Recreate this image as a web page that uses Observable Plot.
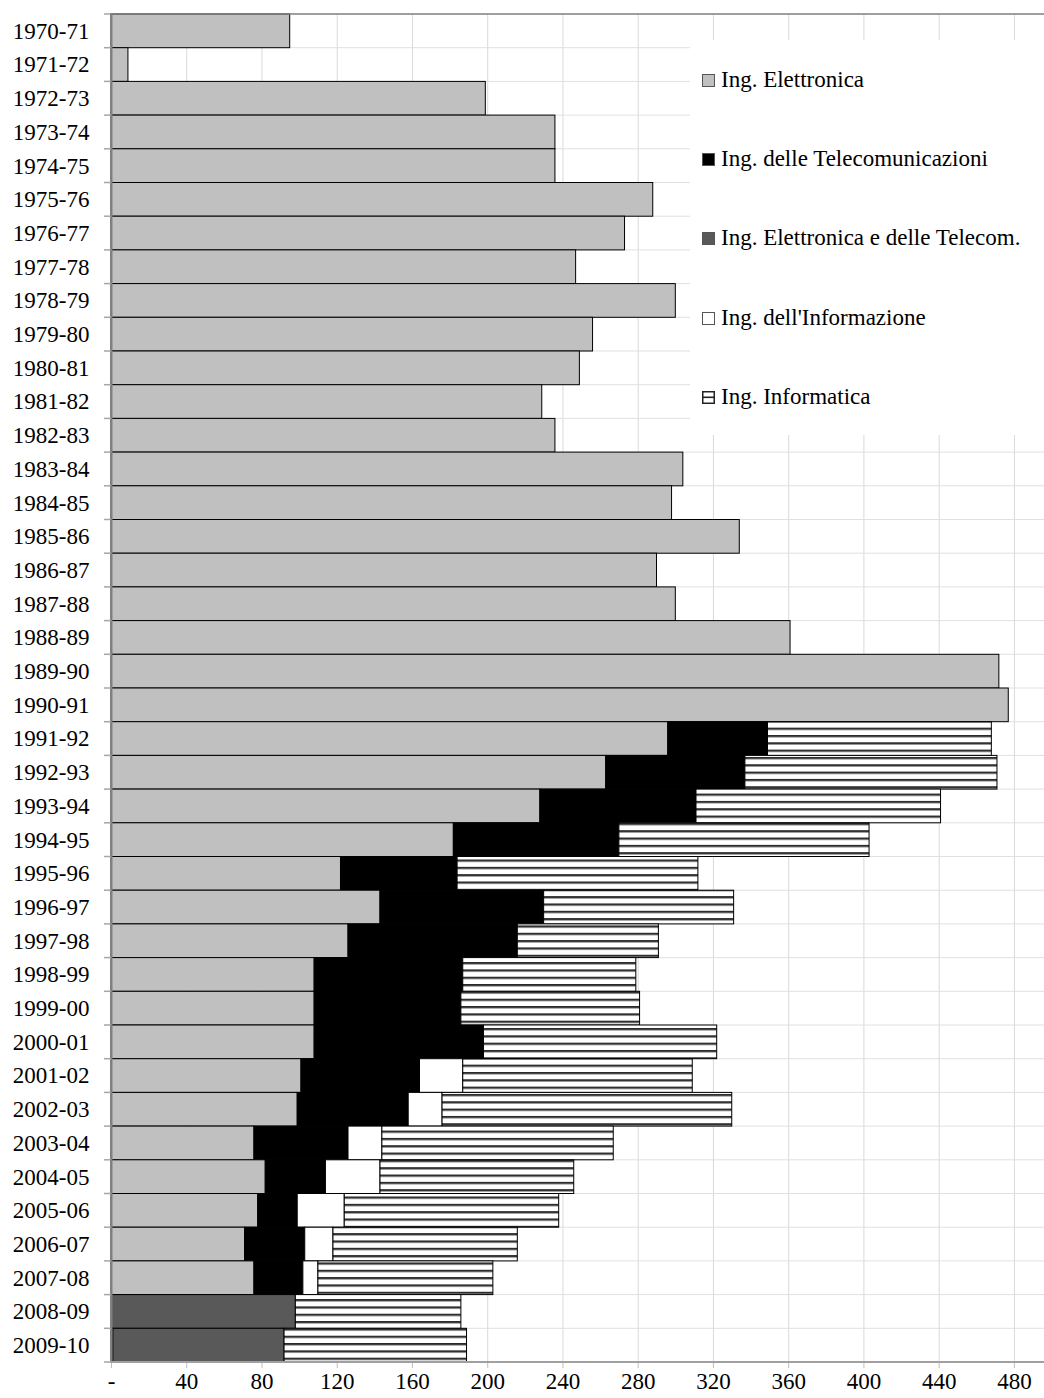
<!DOCTYPE html>
<html>
<head>
<meta charset="utf-8">
<script src="https://cdn.jsdelivr.net/npm/d3@7"></script>
<script src="https://cdn.jsdelivr.net/npm/@observablehq/plot@0.6"></script>
<style>
  html, body { margin: 0; padding: 0; background: #fff; }
  #wrap { position: relative; width: 1044px; height: 1398px; font-family: "Liberation Serif", "Times New Roman", serif; }
  #legend { position: absolute; left: 690px; top: 40px; width: 354px; height: 395px; background: #fff; }
  .item { position: absolute; left: 12px; height: 30px; display: flex; align-items: center; font-size: 23px; color: #000; white-space: nowrap; }
  .item svg { margin-right: 6px; flex: none; }
</style>
</head>
<body>
<div id="wrap"><div id="chart"></div><div id="legend"></div></div>
<script>
const years = ["1970-71","1971-72","1972-73","1973-74","1974-75","1975-76","1976-77","1977-78","1978-79","1979-80",
  "1980-81","1981-82","1982-83","1983-84","1984-85","1985-86","1986-87","1987-88","1988-89","1989-90",
  "1990-91","1991-92","1992-93","1993-94","1994-95","1995-96","1996-97","1997-98","1998-99","1999-00",
  "2000-01","2001-02","2002-03","2003-04","2004-05","2005-06","2006-07","2007-08","2008-09","2009-10"];

const series = ["Ing. Elettronica", "Ing. delle Telecomunicazioni", "Ing. Elettronica e delle Telecom.", "Ing. dell'Informazione", "Ing. Informatica"];

const elettronica = [95, 9, 199, 236, 236, 288, 273, 247, 300, 256,
  249, 229, 236, 304, 298, 334, 290, 300, 361, 472,
  477, 296, 263, 228, 182, 122, 143, 126, 108, 108,
  108, 101, 99, 76, 82, 78, 71, 76, 0, 1];

const telecomunicazioni = [0,0,0,0,0,0,0,0,0,0,
  0,0,0,0,0,0,0,0,0,0,
  0, 53, 74, 83, 88, 62, 87, 90, 79, 78,
  90, 63, 59, 50, 32, 21, 32, 26, 0, 0];

const elettronicaTelecom = [0,0,0,0,0,0,0,0,0,0,
  0,0,0,0,0,0,0,0,0,0,
  0,0,0,0,0,0,0,0,0,0,
  0,0,0,0,0,0,0,0, 98, 91];

const informazione = [0,0,0,0,0,0,0,0,0,0,
  0,0,0,0,0,0,0,0,0,0,
  0,0,0,0,0,0,0,0,0,0,
  0, 23, 18, 18, 29, 25, 15, 8, 0, 0];

const informatica = [0,0,0,0,0,0,0,0,0,0,
  0,0,0,0,0,0,0,0,0,0,
  0, 119, 134, 130, 133, 128, 101, 75, 92, 95,
  124, 122, 154, 123, 103, 114, 98, 93, 88, 97];

const xTicks = [0, 40, 80, 120, 160, 200, 240, 280, 320, 360, 400, 440, 480];

const fills = ["#c0c0c0", "#000000", "#595959", "#ffffff", "url(#hatch)"];

const columns = [elettronica, telecomunicazioni, elettronicaTelecom, informazione, informatica];
const data = [];
years.forEach((y, i) => {
  series.forEach((s, j) => {
    const v = columns[j][i];
    if (v > 0) data.push({year: y, series: s, value: v});
  });
});

const W = 1044, H = 1398;
const M = {marginLeft: 111, marginRight: 0, marginTop: 14, marginBottom: 36};
const plot = Plot.plot({
  width: W,
  height: H,
  ...M,
  style: {fontFamily: "'Liberation Serif', 'Times New Roman', serif", fontSize: "23px", background: "#fff", color: "#000"},
  x: {domain: [0, 496], label: null},
  y: {domain: years, padding: 0, round: false, label: null},
  color: {domain: series, range: fills},
  marks: [
    Plot.gridX(xTicks, {stroke: "#d9d9d9", strokeOpacity: 1, strokeWidth: 1}),
    Plot.barX(data, {x: "value", y: "year", fill: "series", stroke: "#000", strokeWidth: 1}),
    Plot.ruleX([0], {stroke: "#808080", strokeWidth: 2}),
    Plot.axisX({...M, ticks: xTicks, tickSize: 6, tickPadding: 4, tickFormat: d => d === 0 ? "-" : String(d), stroke: "#bfbfbf", fill: "#000", fontSize: 23, label: null}),
    Plot.axisY({...M, tickSize: 0, tickPadding: 22, fill: "#000", fontSize: 23, label: null})
  ]
});

document.getElementById("chart").appendChild(plot);

// decorations: pattern, band gridlines, frame lines, category ticks
const svg = d3.select(plot);
const ys = plot.scale("y");
const xs = plot.scale("x");
const bw = ys.bandwidth;
const x0 = xs.apply(xTicks[0]);
const xEnd = W;
const yTop = ys.apply(years[0]);
const yBottom = ys.apply(years[years.length - 1]) + bw;

const defs = svg.insert("defs", ":first-child");
const ph = bw / 4.6;
const pat = defs.append("pattern").attr("id", "hatch").attr("patternUnits", "userSpaceOnUse")
  .attr("x", 0).attr("y", yTop + 3).attr("width", 10).attr("height", ph);
pat.append("rect").attr("width", 10).attr("height", ph).attr("fill", "#fff");
pat.append("rect").attr("y", 0).attr("width", 10).attr("height", 1.8).attr("fill", "#2a2a2a");
pat.append("rect").attr("y", 1.8).attr("width", 10).attr("height", 0.9).attr("fill", "#999");

const boundaries = years.map(y => ys.apply(y)).concat([yBottom]);
const barsG = plot.querySelector("g[aria-label='bar']");
const gGrid = document.createElementNS("http://www.w3.org/2000/svg", "g");
plot.insertBefore(gGrid, barsG);
d3.select(gGrid).selectAll("line").data(boundaries.slice(1, -1)).join("line")
  .attr("x1", x0).attr("x2", xEnd).attr("y1", d => d).attr("y2", d => d)
  .attr("stroke", "#e0e0e0").attr("stroke-width", 1);

const gAx = svg.append("g");
gAx.selectAll("line.t").data(boundaries).join("line")
  .attr("x1", x0 - 7).attr("x2", x0).attr("y1", d => d).attr("y2", d => d)
  .attr("stroke", "#a6a6a6").attr("stroke-width", 1.5);
gAx.append("line").attr("x1", x0 - 1).attr("x2", xEnd).attr("y1", yTop).attr("y2", yTop)
  .attr("stroke", "#7f7f7f").attr("stroke-width", 1.5);
gAx.append("line").attr("x1", x0 - 1).attr("x2", xEnd).attr("y1", yBottom).attr("y2", yBottom)
  .attr("stroke", "#a0a0a0").attr("stroke-width", 2);

// legend
const legend = d3.select("#legend");
const centers = [40, 119, 198, 278, 357];
series.forEach((s, i) => {
  const it = legend.append("div").attr("class", "item").style("top", (centers[i] - 15) + "px");
  const sw = it.append("svg").attr("width", 13).attr("height", 13);
  if (i === 4) {
    sw.append("rect").attr("x", 0.75).attr("y", 0.75).attr("width", 11.5).attr("height", 11.5)
      .attr("fill", "#fff").attr("stroke", "#222").attr("stroke-width", 1.5);
    sw.append("rect").attr("x", 1).attr("y", 5.5).attr("width", 11).attr("height", 1.6).attr("fill", "#222");
  } else {
    sw.append("rect").attr("x", 0.5).attr("y", 0.5).attr("width", 12).attr("height", 12)
      .attr("fill", fills[i]).attr("stroke", "#555").attr("stroke-width", 1);
  }
  it.append("span").text(s);
});
</script>
</body>
</html>
